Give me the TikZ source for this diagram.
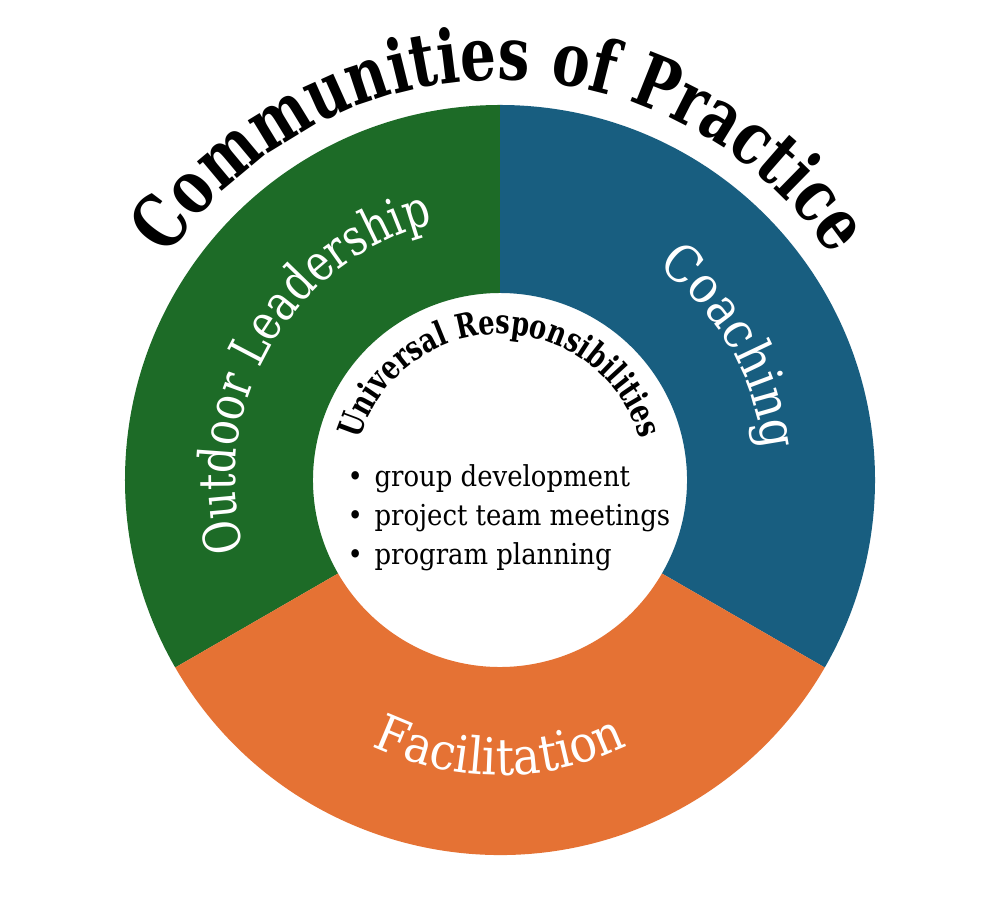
\documentclass[tikz,border=0pt]{standalone}
\usepackage{fontspec}
\setmainfont{DejaVu Serif Condensed}
\newfontfamily\titlefont[FakeStretch=0.85]{DejaVu Serif Condensed}
\newfontfamily\narrowfont[FakeStretch=0.9]{DejaVu Serif Condensed}
\usetikzlibrary{decorations.text}
\definecolor{leadgreen}{RGB}{29,107,39}
\definecolor{coachblue}{RGB}{24,94,128}
\definecolor{facorange}{RGB}{229,114,52}
\tikzset{
  ringlabel/.style={decorate, decoration={text along path, text align=center, text color=white, text={#1}}},
}
\begin{document}
\begin{tikzpicture}
        \fill[white] (-5,4.8) rectangle (5,-3.99);

        \fill[leadgreen] (90:3.75) arc (90:210:3.75) -- (210:1.87) arc (210:90:1.87) -- cycle;
        \fill[coachblue] (90:3.75) arc (90:-30:3.75) -- (-30:1.87) arc (-30:90:1.87) -- cycle;
        \fill[facorange] (210:3.75) arc (210:330:3.75) -- (330:1.87) arc (330:210:1.87) -- cycle;

        \path[decorate, decoration={text along path, text align=center,
            text={|\titlefont\fontsize{21}{21}\selectfont\bfseries|Communities of Practice}}]
            (165:4.0) arc (165:15:4.0);

        \path[ringlabel={|\narrowfont\fontsize{14.5}{14.5}\selectfont|Outdoor Leadership}] (210:2.65) arc (210:90:2.65);
        \path[ringlabel={|\fontsize{14.5}{14.5}\selectfont|Coaching}] (90:2.65) arc (90:-30:2.65);
        \path[ringlabel={|\fontsize{14.5}{14.5}\selectfont|Facilitation}] (210:2.95) arc (210:330:2.95);

        \path[decorate, decoration={text along path, text align=center,
            text={|\titlefont\fontsize{9.6}{9.6}\selectfont\bfseries|Universal Responsibilities}}]
            (180:1.46) arc (180:0:1.46);

        \node[anchor=west, align=left, inner sep=0pt, font=\fontsize{8.2}{11.1}\selectfont] (duties) at (-1.53,-0.38)
            {\textbullet\hspace{0.4em}group development\\
             \textbullet\hspace{0.4em}project team meetings\\
             \textbullet\hspace{0.4em}program planning};
    \end{tikzpicture}
\end{document}
